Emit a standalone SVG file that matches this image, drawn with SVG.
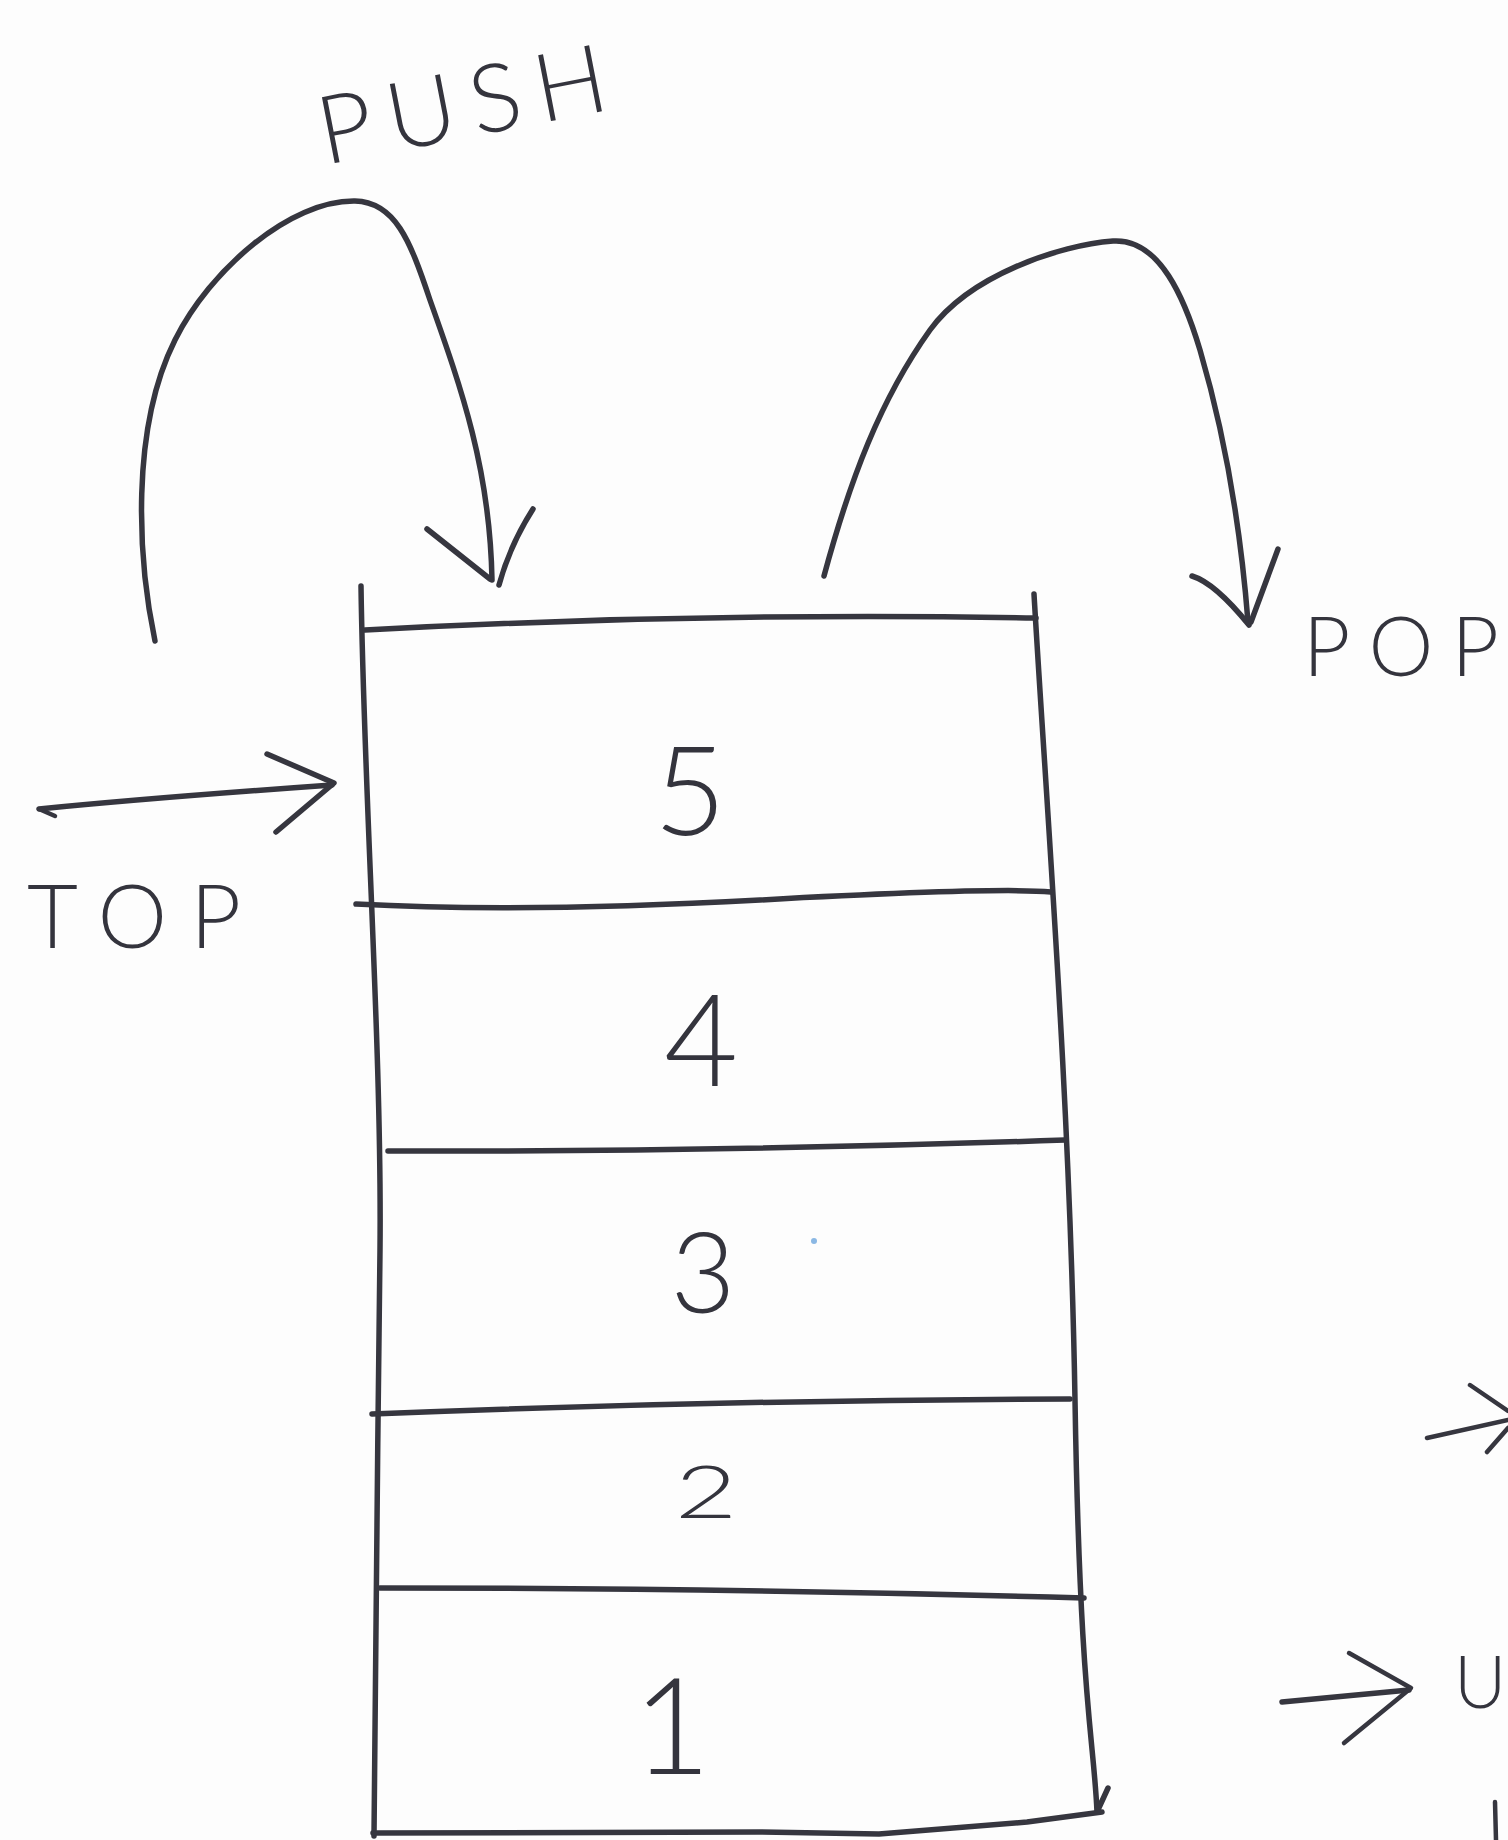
<svg xmlns="http://www.w3.org/2000/svg" width="1508" height="1840" viewBox="0 0 1508 1840">
  <style>
    .ink { fill: none; stroke: #36363f; stroke-width: 5.5; stroke-linecap: round; stroke-linejoin: round; }
    .thin { stroke-width: 4.5; }
    .hand { font-family: Lato, "Liberation Sans", Arial, sans-serif; font-weight: 300; fill: #34343d; }
    .num { font-family: Lato, "Liberation Sans", Arial, sans-serif; font-weight: 300; fill: #34343d; text-anchor: middle; }
  </style>

  <!-- paper -->
  <rect width="1508" height="1840" fill="#fdfdfd"/>

  <!-- stack: outer frame and cell dividers -->
  <g id="stack">
    <path class="ink" d="M361,586 C364,800 382,1050 380,1250 S374,1700 374,1836"/>
    <path class="ink" d="M1034,594 C1046,800 1070,1100 1075,1400 S1094,1740 1097,1812 L1108,1788"/>
    <path class="ink" d="M365,630 Q700,612 1036,618"/>
    <path class="ink" d="M356,904 Q520,913 760,900 T1051,892"/>
    <path class="ink" d="M388,1151 Q720,1152 1065,1140"/>
    <path class="ink" d="M372,1414 Q720,1400 1070,1399"/>
    <path class="ink" d="M380,1588 Q720,1588 1084,1598"/>
    <path class="ink" d="M373,1833 L760,1832 L879,1834 L1027,1822 L1102,1812"/>

    <g id="cell-5"><text class="num" x="690" y="835" font-size="125">5</text></g>
    <g id="cell-4"><text class="num" x="701" y="1086" font-size="128">4</text></g>
    <g id="cell-3"><text class="num" x="703" y="1313" font-size="112">3</text></g>
    <g id="cell-2"><text class="num" transform="translate(706,1518) scale(1.5,1)" x="0" y="0" font-size="72">2</text></g>
    <g id="cell-1"><text class="num" x="672" y="1774" font-size="135">1</text></g>
  </g>

  <!-- labels -->
  <g id="push-label">
    <text class="hand" transform="translate(325,165) rotate(-11)" x="0" y="0" font-size="95" textLength="292" lengthAdjust="spacing">PUSH</text>
  </g>
  <g id="pop-label">
    <text class="hand" x="1303" y="676" font-size="82" textLength="196" lengthAdjust="spacing">POP</text>
  </g>
  <g id="top-label">
    <text class="hand" x="27" y="948" font-size="88" textLength="214" lengthAdjust="spacing">TOP</text>
  </g>

  <!-- connectors -->
  <g id="connectors">
    <!-- push: arcs over and comes down onto the top of the stack -->
    <path class="ink" d="M155,641 C138,560 130,430 175,340 C210,270 290,200 355,201 C395,202 410,240 430,300 C462,390 490,470 492,580"/>
    <path class="ink" d="M427,529 L490,579"/>
    <path class="ink" d="M533,509 Q510,545 499,585"/>

    <!-- pop: leaves the top of the stack and drops down to the right -->
    <path class="ink" d="M824,576 C850,480 880,400 930,330 C970,275 1060,245 1113,241 C1160,238 1185,300 1200,350 C1222,425 1240,520 1248,622"/>
    <path class="ink" d="M1192,576 Q1215,583 1249,625"/>
    <path class="ink" d="M1278,549 L1251,622"/>

    <!-- top pointer -->
    <path class="ink" d="M39,809 Q150,798 332,785"/>
    <path class="ink thin" d="M39,809 L55,816"/>
    <path class="ink" d="M267,754 L334,783 L276,832"/>

    <!-- arrows running off the right edge of the page -->
    <path class="ink thin" d="M1427,1438 L1508,1420"/>
    <path class="ink thin" d="M1470,1385 L1508,1411"/>
    <path class="ink thin" d="M1487,1452 L1508,1428"/>

    <path class="ink" d="M1282,1702 L1409,1690"/>
    <path class="ink thin" d="M1349,1653 L1411,1688 L1344,1743"/>
  </g>

  <!-- writing at the right margin -->
  <text class="hand" x="1454" y="1708" font-size="72">U</text>
  <path class="ink thin" d="M1495,1802 L1496,1840"/>

  <!-- stray blue speck -->
  <circle cx="814" cy="1241" r="3" fill="#8bb8e4"/>
</svg>
